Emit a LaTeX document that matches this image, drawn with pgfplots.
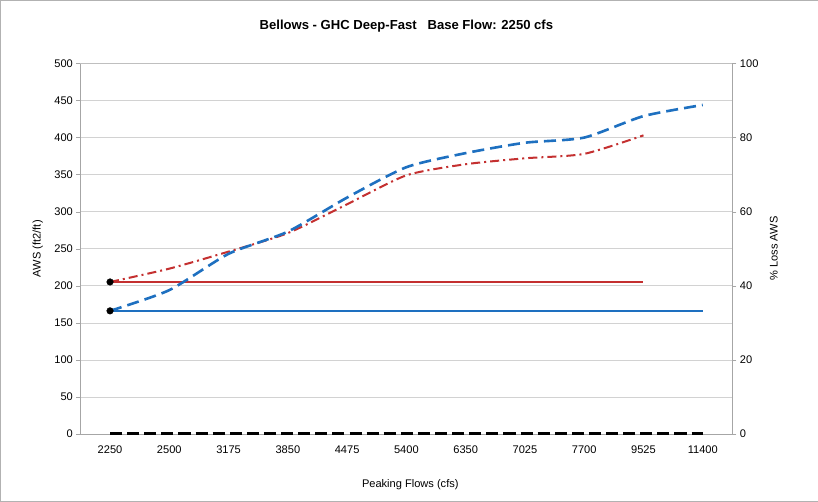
\documentclass[border=0pt]{standalone}
\usepackage{pgfplots}
\pgfplotsset{compat=1.18}
\usepackage{fontspec}
\setmainfont{Liberation Sans}
\definecolor{awsblue}{RGB}{30,112,192}
\definecolor{awsred}{RGB}{196,48,48}

\begin{document}
\begin{tikzpicture}
\pgfplotsset{
  every axis/.append style={
    scale only axis,
    width=648pt, height=368pt,
    xmin=-0.5, xmax=10.5,
    font=\fontsize{11}{13}\selectfont,
    /pgf/number format/assume math mode=true,
    axis line style={gray!70},
    tick style={gray!70},
    clip=false,
  }
}
\begin{axis}[
  ymin=0, ymax=500,
  ytick distance=50,
  axis y line*=left,
  axis x line*=bottom,
  xtick={0,...,10},
  xticklabels={2250,2500,3175,3850,4475,5400,6350,7025,7700,9525,11400},
  xticklabel style={yshift=-4pt, text height=8pt, text depth=1pt},
  major tick length=4pt,
  xtick style={draw=none},
  ymajorgrids,
  grid style={gray!35},
  tick align=outside,
  ylabel={AWS (ft2/ft)},
  ylabel style={at={(rel axis cs:-0.052,0.5)}, anchor=south},
  xlabel={Peaking Flows (cfs)},
  xlabel style={at={(rel axis cs:0.506,-0.136)}, anchor=center},
]
% frame and title
\draw[gray!60] (rel axis cs:-0.123,-0.182) rectangle (rel axis cs:1.131,1.171);
\draw[gray!50] (rel axis cs:0,1) -- (rel axis cs:1,1);
\node[font=\fontsize{13}{15}\selectfont\bfseries] at (rel axis cs:0.5,1.10)
  {Bellows - GHC Deep-Fast\ \ \ Base Flow: 2250 cfs};
% flat reference lines
\addplot[awsred, line width=2pt] coordinates {(0,205) (9,205)};
\addplot[awsblue, line width=2pt] coordinates {(0,166) (10,166)};
% red dash-dot
\addplot[awsred, line width=2pt, smooth, tension=0.4, dash pattern=on 9pt off 4pt on 2pt off 4pt]
  coordinates {(0,205) (1,223) (2,246) (3,271) (4,310) (5,349) (6,364) (7,372) (8,378) (9,403)};
% blue dashed
\addplot[awsblue, line width=2.6pt, smooth, tension=0.4, dash pattern=on 12pt off 6pt]
  coordinates {(0,166) (1,194) (2,243) (3,273) (4,319) (5,360) (6,379) (7,393) (8,400) (9,429) (10,444)};
% start markers
\addplot[only marks, mark=*, mark size=3.3pt, black] coordinates {(0,166) (0,205)};
\end{axis}
\begin{axis}[
  ymin=0, ymax=100,
  ytick distance=20,
  axis y line*=right,
  axis x line=none,
  tick align=outside,
  major tick length=4pt,
  ylabel={\% Loss AWS},
  ylabel style={at={(rel axis cs:1.075,0.5)}, anchor=south},
]
\addplot[black, line width=3pt, dash pattern=on 12pt off 5pt]
  coordinates {(0,0) (1,0) (2,0) (3,0) (4,0) (5,0) (6,0) (7,0) (8,0) (9,0) (10,0)};
\end{axis}
\end{tikzpicture}
\end{document}
